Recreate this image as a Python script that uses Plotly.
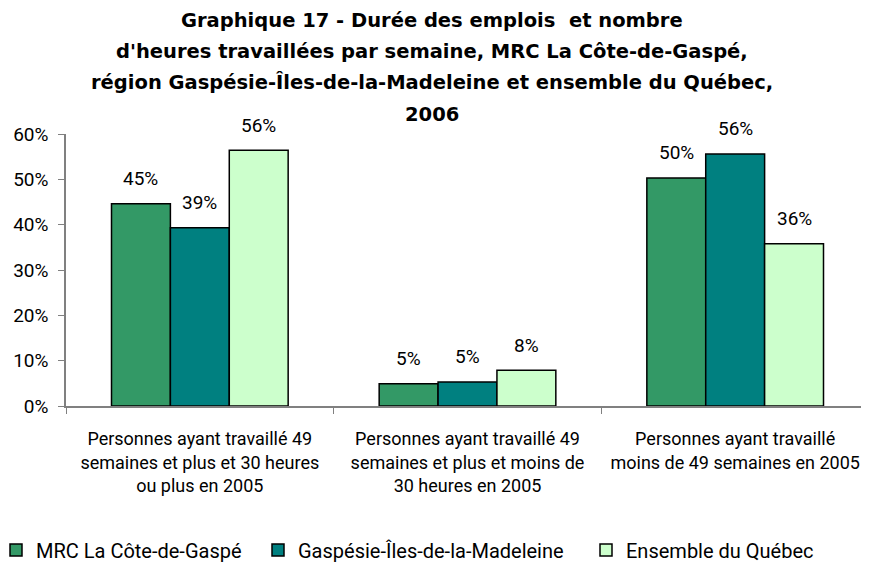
import plotly.graph_objects as go

categories = [
    "Personnes ayant travaillé 49<br>semaines et plus et 30 heures<br>ou plus en 2005",
    "Personnes ayant travaillé 49<br>semaines et plus et moins de<br>30 heures en 2005",
    "Personnes ayant travaillé<br>moins de 49 semaines en 2005",
]
series_names = ["MRC La Côte-de-Gaspé", "Gaspésie-Îles-de-la-Madeleine", "Ensemble du Québec"]
mrc = [44.6, 4.9, 50.3]
gaspesie = [39.3, 5.3, 55.6]
quebec = [56.4, 7.9, 35.8]
colors = ["#339966", "#008080", "#CCFFCC"]
yticks = [0, 10, 20, 30, 40, 50, 60]
title_lines = [
    "Graphique 17 - Durée des emplois  et nombre",
    "d'heures travaillées par semaine, MRC La Côte-de-Gaspé,",
    "région Gaspésie-Îles-de-la-Madeleine et ensemble du Québec,",
    "2006",
]

FONT = "Roboto, sans-serif"
L, R, T, B = 58, 8, 126, 167
PW = 869 - L - R
PH = 565 - T - B
BARGAP = 0.34
bar_w = (PW / len(categories)) * (1 - BARGAP) / 3
legend_ids = ["legend", "legend2", "legend3"]
legend_x_px = [-12, 250, 578]

fig = go.Figure()
for k, (name, vals, col) in enumerate(zip(series_names, [mrc, gaspesie, quebec], colors)):
    fig.add_trace(go.Bar(
        x=categories, y=vals, name=name, legend=legend_ids[k],
        marker=dict(color=col, line=dict(color="black", width=1.5)),
        cliponaxis=False,
    ))
    for cat, v in zip(categories, vals):
        fig.add_annotation(
            x=cat, y=v, xref="x", yref="y", text=f"{v:.0f}%",
            showarrow=False, xanchor="center", yanchor="middle",
            xshift=(k - 1) * bar_w, yshift=25,
            font=dict(size=19, color="black", family=FONT),
        )

for i, line in enumerate(title_lines):
    yc = [13, 43, 74, 106][i]
    fig.add_annotation(
        text="<b>" + line + "</b>", xref="paper", yref="paper",
        x=(424 - L) / PW, y=(565 - B - yc) / PH,
        xanchor="center", yanchor="middle", showarrow=False,
        font=dict(size=19.5, color="black", family="DejaVu Sans, sans-serif"),
    )

legend_common = dict(orientation="h", xanchor="left",
                     y=(565 - B - 542) / PH, yanchor="middle",
                     font=dict(size=20, family=FONT), itemwidth=30)
layout_legends = {}
for lid, lx in zip(legend_ids, legend_x_px):
    layout_legends[lid] = dict(legend_common, x=(lx - L) / PW)

fig.update_layout(
    width=869, height=565,
    margin=dict(l=L, r=R, t=T, b=B, autoexpand=False),
    paper_bgcolor="white", plot_bgcolor="white",
    barmode="group", bargap=BARGAP, bargroupgap=0,
    font=dict(family=FONT, size=18, color="black"),
    showlegend=True,
    **layout_legends,
)
fig.update_xaxes(
    showline=True, linecolor="#808080", linewidth=1.5,
    ticks="outside", tickson="boundaries", ticklen=6, tickcolor="#808080",
    tickfont=dict(size=18, family=FONT), tickangle=0, automargin=False,
    ticklabelstandoff=16,
)
fig.update_yaxes(
    range=[0, 60], tickvals=yticks, ticktext=[f"{v}%" for v in yticks],
    showline=True, linecolor="#808080", linewidth=1.5,
    ticks="outside", ticklen=6, tickcolor="#808080",
    showgrid=False, zeroline=False, automargin=False,
    tickfont=dict(size=19, family=FONT), ticklabelstandoff=6,
)

fig.write_html("out.html")
